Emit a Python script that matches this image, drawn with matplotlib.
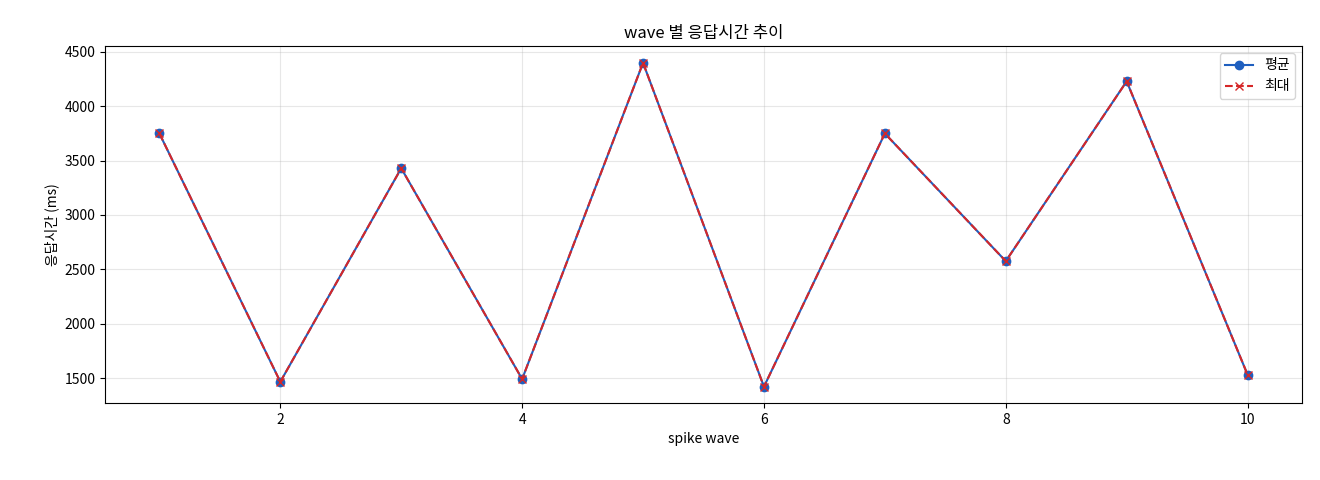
import matplotlib
matplotlib.use("Agg")
import matplotlib.pyplot as plt

plt.rcParams['font.family'] = ['Noto Sans CJK KR', 'DejaVu Sans']

waves = [1, 2, 3, 4, 5, 6, 7, 8, 9, 10]
avg_ms = [3750, 1465, 3430, 1490, 4400, 1420, 3750, 2575, 4230, 1530]
max_ms = [3750, 1465, 3430, 1490, 4400, 1420, 3750, 2575, 4230, 1530]

fig = plt.figure(figsize=(13.2, 4.8), dpi=100)
ax = fig.add_axes([105/1320, 1-403/480, (1302-105)/1320, (403-46)/480])
ax.plot(waves, avg_ms, '-o', color='#1f5fbf', label='평균', markersize=6)
ax.plot(waves, max_ms, '--x', color='#d62728', label='최대', markersize=6)
ax.set_ylim(1270, 4555)
ax.set_title('wave 별 응답시간 추이', fontsize=12)
ax.set_xlabel('spike wave', fontsize=10)
ax.set_ylabel('응답시간 (ms)', fontsize=10)
ax.grid(True, alpha=0.3)
ax.legend(loc='upper right')
fig.savefig('out.png', dpi=100)
